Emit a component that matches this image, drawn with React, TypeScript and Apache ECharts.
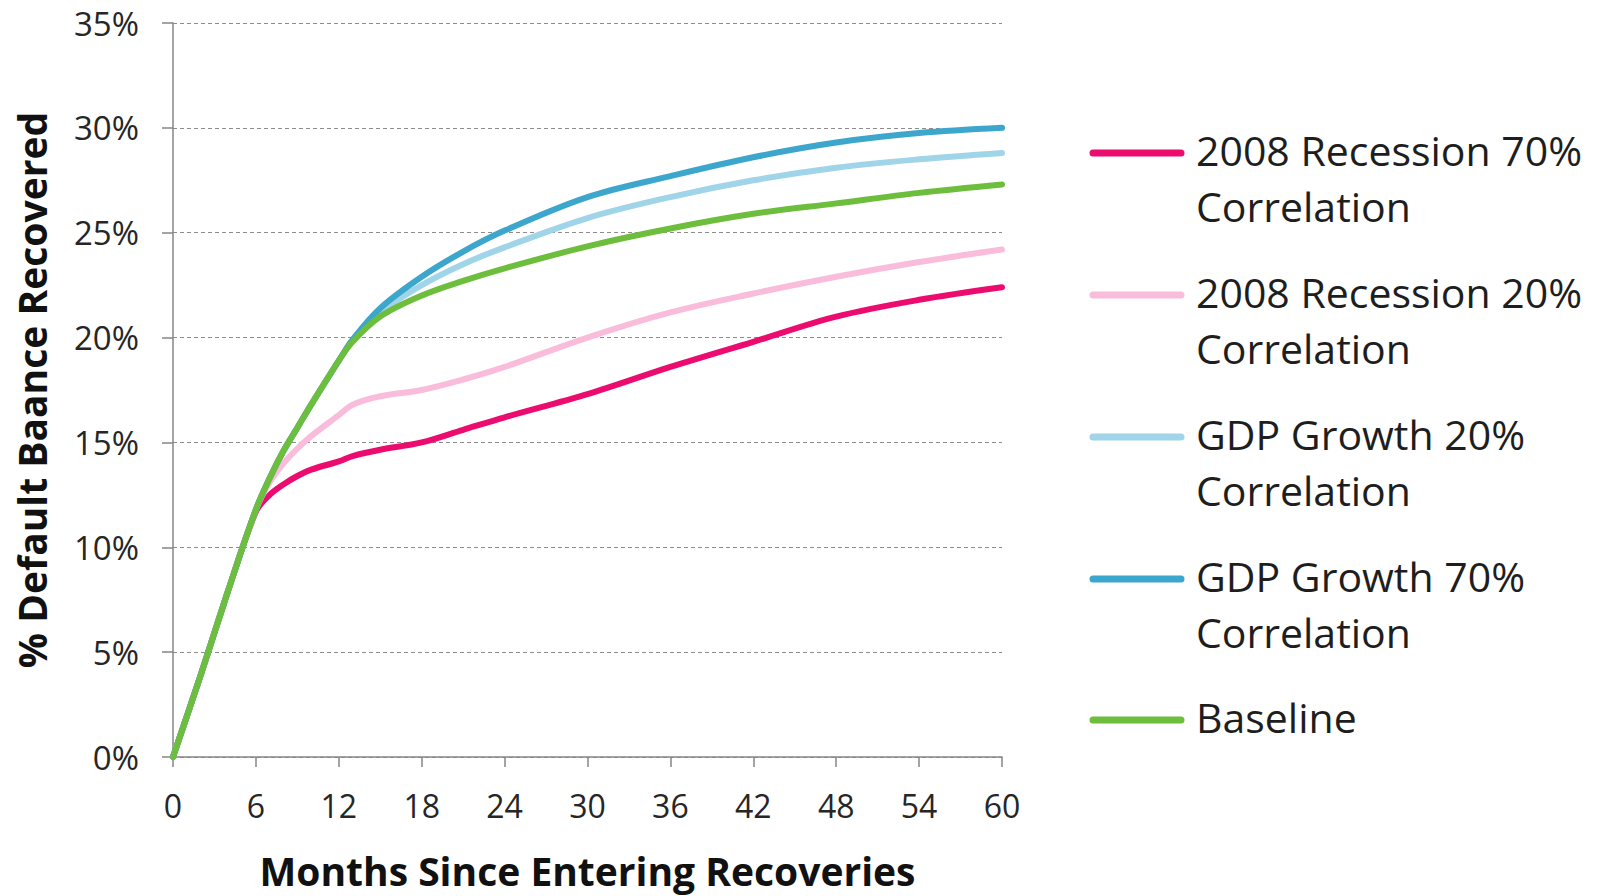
import React, { useEffect, useRef } from "react";
import * as echarts from "echarts";

const months = [0, 2, 4, 6, 7, 8, 9, 10, 12, 13, 15, 18, 21, 24, 30, 36, 42, 48, 54, 60];

const recession70 = [0, 3.9, 7.95, 11.7, 12.5, 13.0, 13.4, 13.7, 14.1, 14.35, 14.65, 15.0, 15.6, 16.2, 17.3, 18.6, 19.8, 21.0, 21.8, 22.4];
const recession20 = [0, 3.9, 7.95, 11.8, 13.1, 14.0, 14.7, 15.3, 16.3, 16.8, 17.2, 17.5, 18.0, 18.6, 20.0, 21.2, 22.1, 22.9, 23.6, 24.2];
const gdp20 = [0, 3.9, 7.95, 11.8, 13.3, 14.6, 15.7, 16.8, 18.9, 19.85, 21.2, 22.5, 23.5, 24.3, 25.7, 26.7, 27.5, 28.1, 28.5, 28.8];
const gdp70 = [0, 3.9, 7.95, 11.8, 13.3, 14.6, 15.7, 16.8, 18.9, 19.9, 21.4, 22.9, 24.1, 25.1, 26.7, 27.7, 28.6, 29.3, 29.75, 30.0];
const baseline = [0, 3.9, 7.95, 11.8, 13.3, 14.6, 15.7, 16.8, 18.9, 19.8, 21.0, 22.0, 22.7, 23.3, 24.35, 25.2, 25.9, 26.4, 26.9, 27.3];

const seriesNames = [
  ["2008 Recession 70%", "Correlation"],
  ["2008 Recession 20%", "Correlation"],
  ["GDP Growth 20%", "Correlation"],
  ["GDP Growth 70%", "Correlation"],
  ["Baseline"],
];
const seriesValues = [recession70, recession20, gdp20, gdp70, baseline];
const seriesColors = ["#EC0B6E", "#F9BDDB", "#A0D4E8", "#3DA6CC", "#6CBE3C"];

const xTicks = { min: 0, max: 60, interval: 6 };
const yTicks = { min: 0, max: 35, interval: 5 };

const FONT = "'Open Sans', 'DejaVu Sans', sans-serif";

export default function App() {
  const ref = useRef<HTMLDivElement>(null);

  useEffect(() => {
    if (!ref.current) return;
    const chart = echarts.init(ref.current, undefined, { renderer: "svg" });

    const legendTop = [153, 295, 437, 579, 720];
    const graphics: any[] = [];
    seriesNames.forEach((lines, i) => {
      graphics.push({
        type: "line",
        shape: { x1: 1093, y1: legendTop[i], x2: 1181, y2: legendTop[i] },
        style: { stroke: seriesColors[i], lineWidth: 7, lineCap: "round" },
      });
      lines.forEach((t, j) => {
        graphics.push({
          type: "text",
          x: 1196,
          y: legendTop[i] - 3 + j * 56,
          style: {
            text: t,
            font: `41px ${FONT}`,
            fill: "#1e1e1e",
            verticalAlign: "middle",
            align: "left",
          },
        });
      });
    });

    chart.setOption({
      animation: false,
      backgroundColor: "#ffffff",
      grid: {
        left: 173,
        right: 598,
        top: 23,
        bottom: 139,
        containLabel: false,
        outerBoundsMode: "none",
      },
      xAxis: {
        type: "value",
        min: xTicks.min,
        max: xTicks.max,
        interval: xTicks.interval,
        name: "Months Since Entering Recoveries",
        nameLocation: "middle",
        nameGap: 94,
        nameTextStyle: { fontFamily: FONT, fontSize: 39, fontWeight: "bold", color: "#111" },
        axisLine: { show: true, lineStyle: { color: "#868686", width: 1.5 } },
        axisTick: { show: true, length: 10, lineStyle: { color: "#868686", width: 1.5 } },
        axisLabel: { margin: 32, fontFamily: FONT, fontSize: 32, color: "#262626" },
        splitLine: { show: false },
      },
      yAxis: {
        type: "value",
        min: yTicks.min,
        max: yTicks.max,
        interval: yTicks.interval,
        name: "% Default Baance Recovered",
        nameLocation: "middle",
        nameRotate: 90,
        nameGap: 122,
        nameTextStyle: { fontFamily: FONT, fontSize: 39, fontWeight: "bold", color: "#111" },
        axisLine: { show: true, lineStyle: { color: "#868686", width: 1.5 } },
        axisTick: { show: true, length: 11, lineStyle: { color: "#868686", width: 1.5 } },
        axisLabel: {
          margin: 34,
          fontFamily: FONT,
          fontSize: 33,
          color: "#262626",
          formatter: (v: number) => `${v}%`,
        },
        splitLine: { show: true, lineStyle: { color: "#8c8c8c", width: 1.2, type: [4, 3] } },
      },
      series: seriesValues.map((vals, i) => ({
        type: "line",
        name: seriesNames[i].join(" "),
        data: months.map((m, k) => [m, vals[k]]),
        smooth: 0.35,
        showSymbol: false,
        symbol: "none",
        lineStyle: { color: seriesColors[i], width: 6, cap: "round", join: "round" },
        itemStyle: { color: seriesColors[i] },
        z: 2 + i,
      })),
      graphic: graphics,
    });

    return () => chart.dispose();
  }, []);

  return (
    <div
      ref={ref}
      style={{ position: "fixed", left: 0, top: 0, width: 1600, height: 896, background: "#fff" }}
    />
  );
}
